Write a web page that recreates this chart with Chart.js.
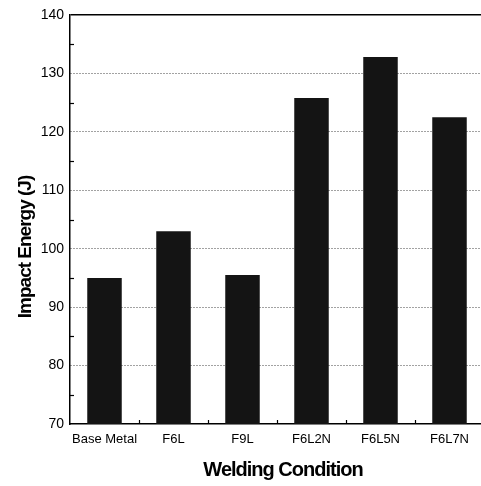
<!DOCTYPE html>
<html>
<head>
<meta charset="utf-8">
<script src="https://cdn.jsdelivr.net/npm/chart.js@4"></script>
<style>
  html, body { margin: 0; padding: 0; background: #fff; overflow: hidden; }
  #wrap { position: relative; width: 490px; height: 486px; }
</style>
</head>
<body>
<div id="wrap"><canvas id="chart"></canvas></div>
<script>
// 용접 조건별 충격 에너지 값
const conditions = ["Base Metal", "F6L", "F9L", "F6L2N", "F6L5N", "F6L7N"];
const impactEnergy = [95.0, 103.0, 95.5, 125.8, 132.8, 122.5];
const yTicks = [70, 80, 90, 100, 110, 120, 130, 140];
const xTitle = "Welding Condition";
const yTitle = "Impact Energy (J)";

const regular = "'Liberation Sans', Arial, sans-serif";

// 안쪽으로 향하는 작은 눈금 + 축 제목
const extrasPlugin = {
  id: "extras",
  afterDraw(chart) {
    const { ctx, chartArea, scales } = chart;
    const x = scales.x, y = scales.y;
    ctx.save();
    ctx.strokeStyle = "#000";
    ctx.lineWidth = 1.2;
    // y 보조 눈금 (5 단위)
    for (let v = yTicks[0] + 5; v < yTicks[yTicks.length - 1]; v += 10) {
      const py = Math.round(y.getPixelForValue(v)) + 0.5;
      ctx.beginPath();
      ctx.moveTo(chartArea.left, py);
      ctx.lineTo(chartArea.left + 4, py);
      ctx.stroke();
    }
    // x 눈금 (카테고리 경계)
    for (let i = 0; i < conditions.length; i++) {
      const px = Math.round((x.getPixelForValue(i) + x.getPixelForValue(i + 1)) / 2) + 0.5;
      ctx.beginPath();
      ctx.moveTo(px, chartArea.bottom);
      ctx.lineTo(px, chartArea.bottom - 4);
      ctx.stroke();
    }
    // 축 제목 (글자 간격을 좁혀서 원본처럼)
    ctx.fillStyle = "#000";
    ctx.textAlign = "center";
    ctx.textBaseline = "middle";
    ctx.letterSpacing = "-1px";
    ctx.font = "bold 20px " + regular;
    ctx.fillText(xTitle, 283, 470);
    ctx.translate(26, 247);
    ctx.rotate(-Math.PI / 2);
    ctx.font = "bold 19px " + regular;
    ctx.fillText(yTitle, 0, 0);
    ctx.restore();
  },
};

const ctx = document.getElementById("chart").getContext("2d");
new Chart(ctx, {
  type: "bar",
  data: {
    labels: conditions,
    datasets: [
      {
        data: impactEnergy,
        backgroundColor: "#141414",
        borderWidth: 0,
        barPercentage: 0.5,
        categoryPercentage: 1.0,
      },
    ],
  },
  options: {
    responsive: true,
    maintainAspectRatio: false,
    animation: false,
    layout: { padding: { top: 15, right: 6, left: 0, bottom: 0 } },
    plugins: { legend: { display: false }, tooltip: { enabled: false } },
    scales: {
      x: {
        afterFit: (s) => { s.height = 62; },
        grid: { display: false, drawTicks: false },
        border: { display: true, color: "#000", width: 1.5 },
        ticks: {
          color: "#000",
          padding: 8,
          maxRotation: 0,
          autoSkip: false,
          font: { family: regular, size: 13 },
        },
      },
      y: {
        min: 70,
        max: 140,
        afterFit: (s) => { s.width = 70; },
        afterBuildTicks: (s) => { s.ticks = yTicks.map((v) => ({ value: v })); },
        grid: {
          drawTicks: false,
          color: (c) => (c.tick && c.tick.value === 140 ? "#000" : c.tick && c.tick.value === 70 ? "rgba(0,0,0,0)" : "#444"),
          lineWidth: (c) => (c.tick && c.tick.value === 140 ? 1.5 : 1),
        },
        border: {
          display: true,
          color: "#000",
          width: 1.5,
          dash: (c) => (c.tick && c.tick.value === 140 ? [] : [1, 2]),
        },
        ticks: {
          color: "#000",
          padding: 6,
          autoSkip: false,
          font: { family: regular, size: 14 },
        },
      },
    },
  },
  plugins: [extrasPlugin],
});
</script>
</body>
</html>
